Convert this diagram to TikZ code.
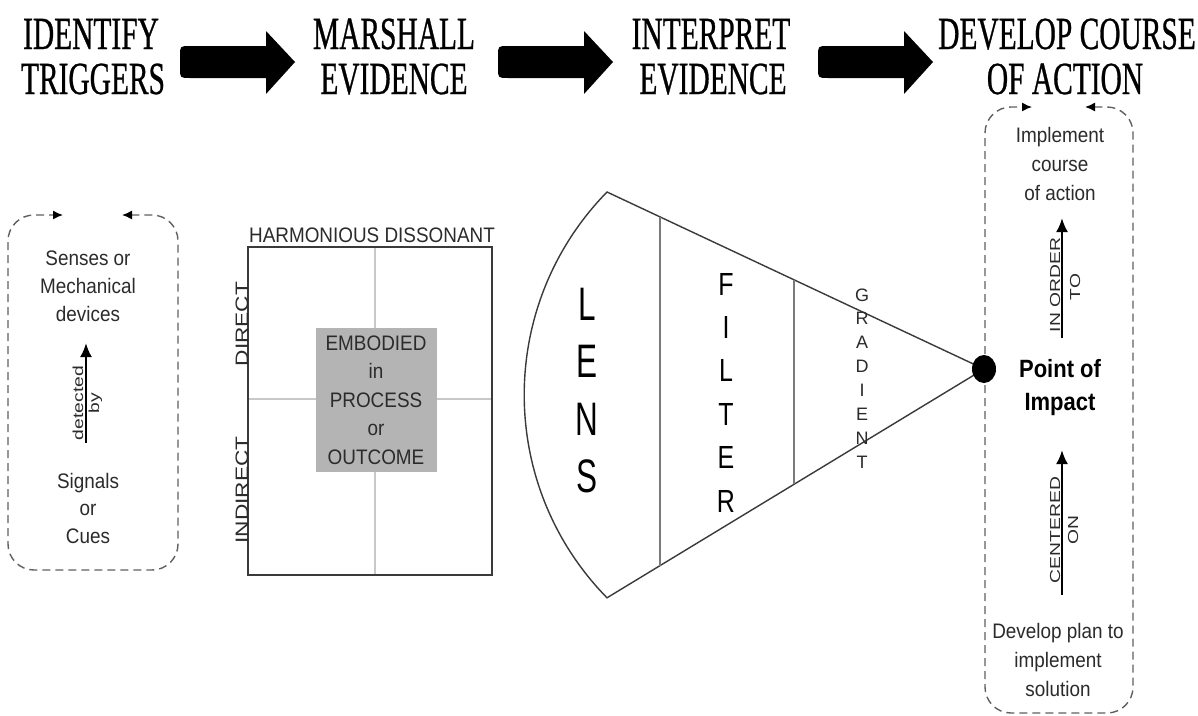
\documentclass[tikz,border=0pt]{standalone}
\usepackage{fontspec}
\setmainfont{Liberation Serif}
\newfontfamily\hdfont[FakeStretch=0.64,FakeBold=0.6]{Liberation Serif}
\newfontfamily\nsans[FakeStretch=0.9]{Liberation Sans}
\newfontfamily\bsans[FakeStretch=0.88]{Liberation Sans}
\newfontfamily\lensfont[FakeStretch=0.67]{Liberation Sans}
\newfontfamily\filtfont[FakeStretch=0.78]{Liberation Sans}
\newfontfamily\gradfont{Liberation Sans}
\newfontfamily\rotfont[FakeStretch=1.33]{Liberation Sans}
\newfontfamily\rotbig[FakeStretch=1.26]{Liberation Sans}
\usetikzlibrary{arrows.meta,shapes.geometric}
\definecolor{txtc}{HTML}{2B2B2B}
\definecolor{dashc}{HTML}{606060}
\definecolor{linec}{HTML}{3A3A3A}
\definecolor{divc}{HTML}{7A7A7A}
\definecolor{gridc}{HTML}{C8C8C8}
\definecolor{boxg}{HTML}{B4B4B4}
\begin{document}
\begin{tikzpicture}[x=1pt,y=-1pt,
 hdr/.style={font=\hdfont\fontsize{46}{46}\selectfont, inner sep=0pt, anchor=base, text=black},
 txt/.style={font=\nsans\fontsize{21}{21}\selectfont, text=txtc, inner sep=0pt, anchor=base},
 btxt/.style={font=\bsans\bfseries\fontsize{25}{25}\selectfont, text=black, inner sep=0pt, anchor=base},
 rlab/.style={font=\rotfont\fontsize{14.5}{14.5}\selectfont, text=txtc, inner sep=0pt, anchor=base, rotate=90},
 rbig/.style={font=\rotbig\fontsize{18}{18}\selectfont, text=txtc, inner sep=0pt, anchor=base, rotate=90},
 dbox/.style={draw=dashc, line width=1.4pt, dash pattern=on 8pt off 5pt, rounded corners=26pt, {Latex[length=10pt,width=9pt,color=black]}-{Latex[length=10pt,width=9pt,color=black]}},
 varr/.style={draw=black, line width=2.4pt, -{Latex[length=14pt,width=12pt]}},
 blk/.style={fill=black},
 lensl/.style={font=\lensfont\fontsize{47}{47}\selectfont, inner sep=0pt, anchor=base, text=black},
 filtl/.style={font=\filtfont\fontsize{32}{32}\selectfont, inner sep=0pt, anchor=base, text=black},
 gradl/.style={font=\gradfont\fontsize{18}{18}\selectfont, inner sep=0pt, anchor=base, text=txtc},
 cone/.style={draw=linec, line width=1.4pt},
 divl/.style={draw=divc, line width=2pt},
 grid/.style={draw=gridc, line width=2pt},
 frame/.style={draw=linec, line width=1.6pt},
 dot/.style={fill=black, ellipse, minimum width=24pt, minimum height=28pt, inner sep=0pt}
]
\path[fill=white] (0,0) rectangle (1198,715);

% ---- headers ----
\node[hdr] (h1a) at (91,49) {IDENTIFY};
\node[hdr] (h1b) at (93,94) {TRIGGERS};
\node[hdr] (h2a) at (394,49) {MARSHALL};
\node[hdr] (h2b) at (394,94) {EVIDENCE};
\node[hdr] (h3a) at (711,49) {INTERPRET};
\node[hdr] (h3b) at (713,94) {EVIDENCE};
\node[hdr] (h4a) at (1067,49) {DEVELOP COURSE};
\node[hdr] (h4b) at (1065,94) {OF ACTION};

% ---- block arrows ----
\foreach \x in {180,498,818}{
 \fill[blk] (\x+86,46) -- (\x+86,31) -- (\x+115,62) -- (\x+86,94) -- (\x+86,78)
   -- (\x+10,78) .. controls (\x,78) and (\x,78) .. (\x,68) -- (\x,56)
   .. controls (\x,46) and (\x,46) .. (\x+10,46) -- cycle;
}

% ---- left dashed loop ----
\coordinate (lbs) at (122,215);
\coordinate (lbe) at (63,215);
\draw[dbox] (lbs) -- (178,215) -- (178,570) -- (8,570) -- (8,215) -- (lbe);

\node[txt] (s1) at (88,265) {Senses or};
\node[txt] (s2) at (88,293) {Mechanical};
\node[txt] (s3) at (88,321) {devices};
\node[txt] (c1) at (88,488) {Signals};
\node[txt] (c2) at (88,515) {or};
\node[txt] (c3) at (88,543) {Cues};
\coordinate (la0) at (86,443);
\coordinate (la1) at (86,343);
\draw[varr] (la0) -- (la1);
\node[rlab] (det) at (83,403) {detected};
\node[rlab] (by) at (99,403) {by};

% ---- matrix ----
\draw[grid] (375,247) -- (375,575);
\draw[grid] (248,399) -- (492,399);
\fill[boxg] (316,328) rectangle (437,472);
\draw[frame] (248,247) rectangle (492,575);
\node[txt] (harm) at (372,242) {HARMONIOUS DISSONANT};
\node[rbig] (dir) at (248,324) {DIRECT};
\node[rbig] (indir) at (248,490) {INDIRECT};
\node[txt] (e1) at (376,350) {EMBODIED};
\node[txt] (e2) at (376,378) {in};
\node[txt] (e3) at (376,407) {PROCESS};
\node[txt] (e4) at (376,435) {or};
\node[txt] (e5) at (376,464) {OUTCOME};

% ---- right dashed loop ----
\coordinate (rbs) at (1085,107);
\coordinate (rbe) at (1032,107);
\draw[dbox] (rbs) -- (1133,107) -- (1133,713) -- (985,713) -- (985,107) -- (rbe);

% ---- cone ----
\coordinate (poic) at (984,369);
\coordinate (ct) at (607,192);
\coordinate (cb) at (607,598);
\draw[cone] (poic) -- (ct) arc[start angle=135.6, end angle=224.4, radius=290pt] -- (poic);
\draw[divl] (660,217) -- (660,566);
\draw[divl] (794,280) -- (794,484);
\node[dot] (poi) at (poic) {};

\foreach \c [count=\i] in {L,E,N,S}
  \node[lensl] (lens\i) at (587,{320+57.5*(\i-1)}) {\c};
\foreach \c [count=\i] in {F,I,L,T,E,R}
  \node[filtl] (filt\i) at (726,{295+43.4*(\i-1)}) {\c};
\foreach \c [count=\i] in {G,R,A,D,I,E,N,T}
  \node[gradl] (grad\i) at (862,{301+23.86*(\i-1)}) {\c};

% ---- right texts ----
\node[txt] (i1) at (1060,142) {Implement};
\node[txt] (i2) at (1060,171) {course};
\node[txt] (i3) at (1060,200) {of action};
\coordinate (ra0) at (1062,338);
\coordinate (ra1) at (1062,218);
\draw[varr] (ra0) -- (ra1);
\node[rlab] (ino) at (1060,285) {IN ORDER};
\node[rlab] (to) at (1080,287) {TO};
\node[btxt] (p1) at (1060,377) {Point of};
\node[btxt] (p2) at (1060,410) {Impact};
\coordinate (rb0) at (1062,595);
\coordinate (rb1) at (1062,450);
\draw[varr] (rb0) -- (rb1);
\node[rlab] (cen) at (1060,530) {CENTERED};
\node[rlab] (on) at (1078,530) {ON};
\node[txt] (d1) at (1058,638) {Develop plan to};
\node[txt] (d2) at (1058,667) {implement};
\node[txt] (d3) at (1058,696) {solution};
\end{tikzpicture}
\end{document}
